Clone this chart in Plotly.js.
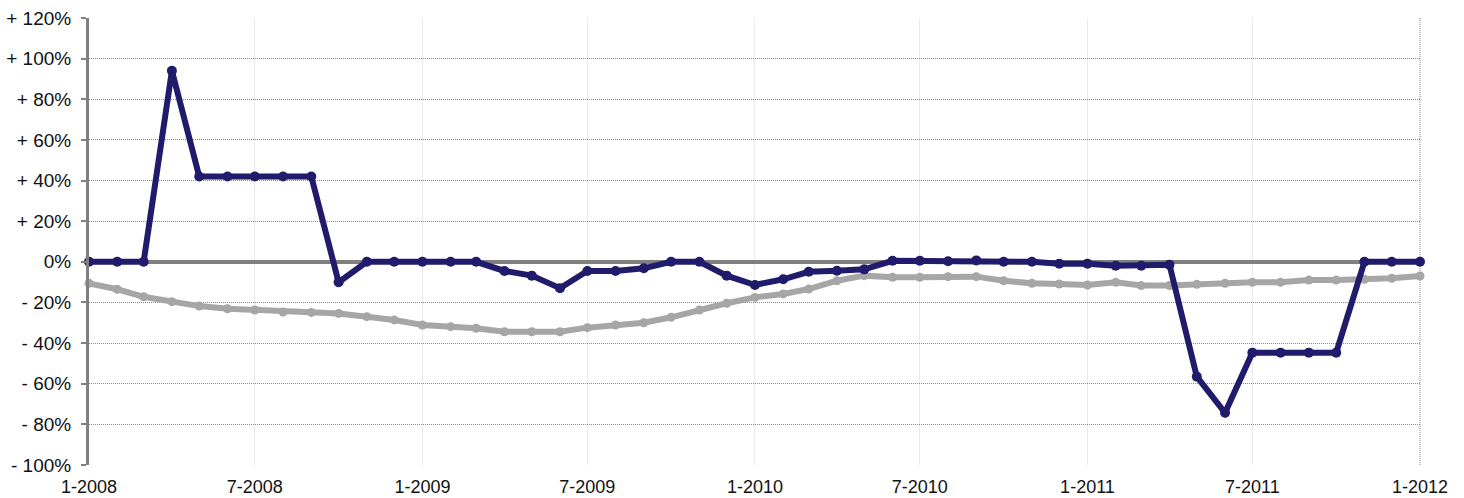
<!DOCTYPE html>
<html>
<head>
<meta charset="utf-8">
<script src="https://cdn.plot.ly/plotly-3.0.1.min.js"></script>
<style>html,body{margin:0;padding:0;background:#fff;}#chart{width:1464px;height:498px;}</style>
</head>
<body>
<div id="chart"></div>
<script>
const dates = [
  "2008-01-01","2008-02-01","2008-03-01","2008-04-01","2008-05-01","2008-06-01","2008-07-01","2008-08-01","2008-09-01","2008-10-01","2008-11-01","2008-12-01",
  "2009-01-01","2009-02-01","2009-03-01","2009-04-01","2009-05-01","2009-06-01","2009-07-01","2009-08-01","2009-09-01","2009-10-01","2009-11-01","2009-12-01",
  "2010-01-01","2010-02-01","2010-03-01","2010-04-01","2010-05-01","2010-06-01","2010-07-01","2010-08-01","2010-09-01","2010-10-01","2010-11-01","2010-12-01",
  "2011-01-01","2011-02-01","2011-03-01","2011-04-01","2011-05-01","2011-06-01","2011-07-01","2011-08-01","2011-09-01","2011-10-01","2011-11-01","2011-12-01",
  "2012-01-01"
];
const seriesNavy = [
  0, 0, 0, 94, 42, 42, 42, 42, 42, -10, 0, 0,
  0, 0, 0, -4.5, -6.8, -13, -4.5, -4.5, -3.2, 0, 0, -6.8,
  -11.4, -8.6, -4.9, -4.4, -3.7, 0.5, 0.5, 0.3, 0.7, 0, 0, -0.9,
  -0.9, -1.9, -1.9, -1.5, -56.5, -74.3, -44.7, -44.7, -44.7, -44.7, 0, 0,
  0
];
const seriesGray = [
  -10.6, -13.5, -17.2, -19.6, -21.8, -23.1, -23.7, -24.7, -24.9, -25.4, -27, -28.6,
  -31.1, -31.9, -32.7, -34.4, -34.4, -34.4, -32.4, -31.1, -30, -27.3, -23.7, -20.4,
  -17.5, -15.8, -13.4, -9.3, -6.8, -7.6, -7.6, -7.3, -7.3, -9.3, -10.6, -10.9,
  -11.4, -10.1, -11.7, -11.7, -11.1, -10.6, -10.1, -10.1, -9, -9, -8.6, -8.1,
  -7
];
const yTickVals = [-100, -80, -60, -40, -20, 0, 20, 40, 60, 80, 100, 120];
const yTickText = ["- 100%", "- 80%", "- 60%", "- 40%", "- 20%", "0%", "+ 20%", "+ 40%", "+ 60%", "+ 80%", "+ 100%", "+ 120%"];
const xTickVals = ["2008-01-01","2008-07-01","2009-01-01","2009-07-01","2010-01-01","2010-07-01","2011-01-01","2011-07-01","2012-01-01"];
const xTickText = ["1-2008","7-2008","1-2009","7-2009","1-2010","7-2010","1-2011","7-2011","1-2012"];

const traces = [
  {
    x: dates, y: seriesGray, type: 'scatter', mode: 'lines+markers',
    line: {color: '#a6a6a6', width: 6}, marker: {color: '#a6a6a6', size: 9},
    cliponaxis: false, hoverinfo: 'skip'
  },
  {
    x: dates, y: seriesNavy, type: 'scatter', mode: 'lines+markers',
    line: {color: '#201c6b', width: 6}, marker: {color: '#201c6b', size: 10},
    cliponaxis: false, hoverinfo: 'skip'
  }
];

const layout = {
  width: 1464, height: 498,
  margin: {l: 89, r: 44, t: 18, b: 33},
  paper_bgcolor: '#ffffff', plot_bgcolor: '#ffffff',
  showlegend: false,
  font: {family: 'Liberation Sans, Arial, Helvetica, sans-serif', size: 18, color: '#111'},
  xaxis: {
    type: 'date',
    range: ['2008-01-01', '2012-01-01'],
    tickmode: 'array', tickvals: xTickVals, ticktext: xTickText,
    showgrid: true, gridcolor: '#ebebeb', gridwidth: 1,
    showline: false, zeroline: false, ticks: '',
    ticklabelstandoff: 9,
    tickfont: {size: 18, color: '#111'}
  },
  yaxis: {
    range: [-100, 120],
    tickmode: 'array', tickvals: yTickVals, ticktext: yTickText,
    showgrid: true, gridcolor: '#8a8a8a', gridwidth: 1, griddash: '1px,1px',
    zeroline: true, zerolinecolor: '#808080', zerolinewidth: 4,
    showline: true, linecolor: '#808080', linewidth: 3,
    ticks: 'outside', ticklen: 5, tickwidth: 2, tickcolor: '#808080',
    ticklabelstandoff: 6,
    tickfont: {size: 19, color: '#111'}
  },
  shapes: [
    {type: 'line', xref: 'paper', yref: 'paper', x0: 1, x1: 1, y0: 0, y1: 1,
     line: {color: '#8a8a8a', width: 1, dash: '1px,1px'}, layer: 'below'}
  ]
};

Plotly.newPlot('chart', traces, layout, {displayModeBar: false, staticPlot: true});
</script>
</body>
</html>
